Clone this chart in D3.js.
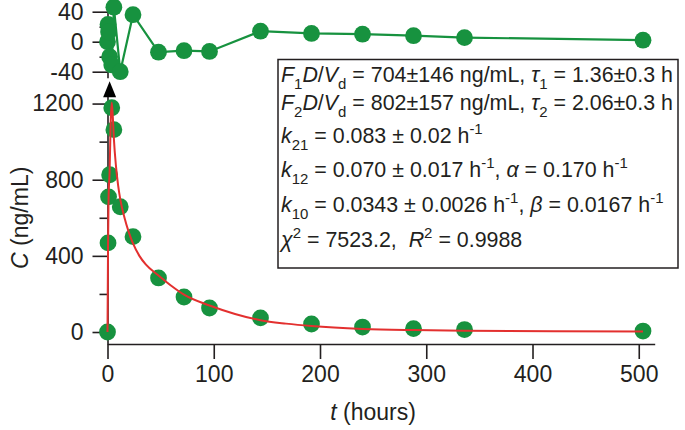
<!DOCTYPE html>
<html>
<head>
<meta charset="utf-8">
<script src="https://cdn.jsdelivr.net/npm/d3@7"></script>
<style>
  html, body { margin: 0; padding: 0; background: #fff; }
  svg { display: block; }
  text { font-family: "Liberation Sans", Arial, Helvetica, sans-serif; fill: #231f20; }
</style>
</head>
<body>
<svg id="chart" width="685" height="430"></svg>
<script>
// ---- data ----
const timeH = [0, 0.5, 1, 2, 4, 6, 12, 24, 48, 72, 96, 144, 192, 240, 288, 336, 504];
const concNgMl = [0, 468, 710, 826, 1178, 1063, 658, 501, 284, 184, 126, 74, 42, 26, 18, 13, 5];
const residualNgMl = [0, 23, 13, -20, -31, 46, -40, 36, -14, -12, -13, 14, 11, 10, 8, 5.5, 2];

const fitT = [0, 0.5, 1, 2, 3, 4, 5, 6, 8, 10, 12, 16, 20, 24, 30, 36, 48, 60, 72, 96, 120, 144, 168, 192, 240, 288, 336, 420, 504];
const fitC = [0, 445, 697, 846, 1100, 1205, 1130, 1016, 870, 770, 698, 600, 525, 465, 400, 355, 297, 243, 196, 139, 95, 62, 44, 31, 16, 10, 7, 4, 3];

const xTicks = [0, 100, 200, 300, 400, 500];
const yTicks = [0, 400, 800, 1200];
const yMinorTicks = [200, 600, 1000];
const resTicks = [-40, 0, 40];
const resMinorTicks = [-20, 20];
const doseTimeH = 2;
const doseMarkerC = 1233;

const xLabel = [["t", "i"], [" (hours)", ""]];
const yLabel = [["C", "i"], [" (ng/mL)", ""]];

const fitLines = [
  [["F","i"],["1","sub"],["D","i"],["/",""],["V","i"],["d","sub"],[" = 704±146 ng/mL, ",""],["τ","i"],["1","sub"],[" = 1.36±0.3 h",""]],
  [["F","i"],["2","sub"],["D","i"],["/",""],["V","i"],["d","sub"],[" = 802±157 ng/mL, ",""],["τ","i"],["2","sub"],[" = 2.06±0.3 h",""]],
  [["k","i"],["21","sub"],[" = 0.083 ± 0.02 h",""],["-1","sup"]],
  [["k","i"],["12","sub"],[" = 0.070 ± 0.017 h",""],["-1","sup"],[", ",""],["α","i"],[" = 0.170 h",""],["-1","sup"]],
  [["k","i"],["10","sub"],[" = 0.0343 ± 0.0026 h",""],["-1","sup"],[", ",""],["β","i"],[" = 0.0167 h",""],["-1","sup"]],
  [["χ","i"],["2","sup"],[" = 7523.2,\u00A0 ",""],["R","i"],["2","sup"],[" = 0.9988",""]]
];

// ---- styles ----
const GREEN = "#17923f";
const RED = "#e3302f";
const INK = "#231f20";

const svg = d3.select("#chart");

const x = d3.scaleLinear().domain([0, 515]).range([107.5, 654.7]);
const y = d3.scaleLinear().domain([-63, 1245]).range([344, 95]);
const yr = d3.scaleLinear().domain([-48, 50]).range([77.7, 4.2]);

function styleAxis(g) {
  g.selectAll("path.domain").attr("stroke", INK).attr("stroke-width", 1.6);
  g.selectAll(".tick line").attr("stroke", INK).attr("stroke-width", 1.6);
  g.selectAll(".tick text").style("font-size", "23px").attr("fill", INK)
    .style("font-family", '"Liberation Sans", Arial, sans-serif');
}

// x axis
const gx = svg.append("g").attr("transform", "translate(0,344)")
  .call(d3.axisBottom(x).tickValues(xTicks).tickSize(15).tickSizeOuter(0).tickPadding(7).tickFormat(d3.format("d")));
styleAxis(gx);

// main y axis
const gy = svg.append("g").attr("transform", "translate(107.5,0)")
  .call(d3.axisLeft(y).tickValues(yTicks).tickSize(15).tickSizeOuter(0).tickPadding(9).tickFormat(d3.format("d")));
styleAxis(gy);
const gyMinor = svg.append("g").attr("transform", "translate(107.5,0)")
  .call(d3.axisLeft(y).tickValues(yMinorTicks).tickSize(8).tickFormat(""));
gyMinor.select("path.domain").remove();
styleAxis(gyMinor);

// residual y axis
const gr = svg.append("g").attr("transform", "translate(107.5,0)")
  .call(d3.axisLeft(yr).tickValues(resTicks).tickSize(15).tickSizeOuter(0).tickPadding(9).tickFormat(d => d < 0 ? "-" + Math.abs(d) : String(d)));
styleAxis(gr);
const grMinor = svg.append("g").attr("transform", "translate(107.5,0)")
  .call(d3.axisLeft(yr).tickValues(resMinorTicks).tickSize(8).tickFormat(""));
grMinor.select("path.domain").remove();
styleAxis(grMinor);

// dose marker
const dx = x(doseTimeH), dyy = y(doseMarkerC);
svg.append("path")
  .attr("d", `M${dx - 6.5},${dyy} L${dx + 6.5},${dyy} L${dx},${dyy - 16} Z`)
  .attr("fill", "#000");

// data points
const fitData = fitT.map((t, i) => [t, fitC[i]]);
const data = timeH.map((t, i) => ({ t, c: concNgMl[i], r: residualNgMl[i] }));
svg.append("g").selectAll("circle").data(data).join("circle")
  .attr("cx", d => x(d.t)).attr("cy", d => y(d.c)).attr("r", 8.4).attr("fill", GREEN);

// fit curve (drawn over the dots, as in the reference)
svg.append("path")
  .datum(fitData)
  .attr("fill", "none")
  .attr("stroke", RED)
  .attr("stroke-width", 2)
  .attr("d", d3.line().x(d => x(d[0])).y(d => y(d[1])).curve(d3.curveMonotoneX));

// residuals
svg.append("path")
  .datum(data)
  .attr("fill", "none")
  .attr("stroke", GREEN)
  .attr("stroke-width", 2.2)
  .attr("d", d3.line().x(d => x(d.t)).y(d => yr(d.r)));
svg.append("g").selectAll("circle").data(data).join("circle")
  .attr("cx", d => x(d.t)).attr("cy", d => yr(d.r)).attr("r", 8.4).attr("fill", GREEN);

// rich text helper
function richText(sel, segs, size) {
  let shift = 0;
  segs.forEach(([s, kind]) => {
    const ts = sel.append("tspan").text(s);
    let target = 0, fs = size;
    if (kind === "sub") { target = size * 0.33; fs = size * 0.7; }
    if (kind === "sup") { target = -size * 0.42; fs = size * 0.7; }
    if (kind === "i") ts.style("font-style", "italic");
    ts.style("font-size", fs + "px");
    const d = target - shift;
    if (d !== 0) ts.attr("dy", d);
    shift = target;
  });
}

// axis labels
const xl = svg.append("text").attr("x", x(250)).attr("y", 420).attr("text-anchor", "middle").style("font-size", "23px");
richText(xl, xLabel, 23);
const yl = svg.append("text")
  .attr("transform", `translate(28,${(y(0) + y(1200)) / 2}) rotate(-90)`)
  .attr("text-anchor", "middle").style("font-size", "23px");
richText(yl, yLabel, 23);

// fit parameter box
svg.append("rect").attr("x", 278).attr("y", 59.5).attr("width", 400).attr("height", 208.5)
  .attr("fill", "#fff").attr("stroke", INK).attr("stroke-width", 1.5);
const baselines = [82, 110, 143, 177, 212, 247];
fitLines.forEach((segs, i) => {
  const t = svg.append("text").attr("x", 281).attr("y", baselines[i]).style("font-size", "21.4px");
  richText(t, segs, 21.4);
});
</script>
</body>
</html>
